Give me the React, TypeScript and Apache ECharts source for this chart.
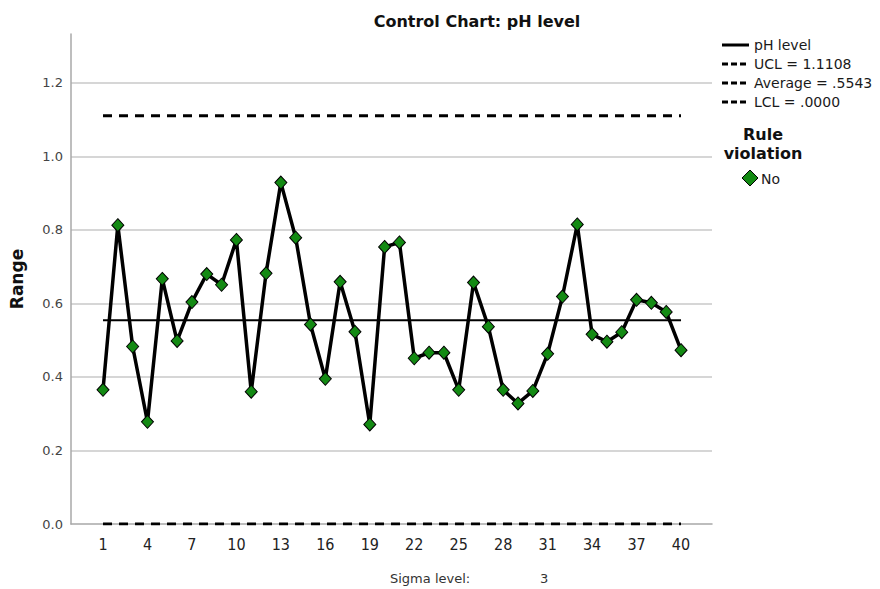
import React, { useEffect, useRef } from "react";
import * as echarts from "echarts";

const samples = [1, 2, 3, 4, 5, 6, 7, 8, 9, 10, 11, 12, 13, 14, 15, 16, 17, 18, 19, 20,
  21, 22, 23, 24, 25, 26, 27, 28, 29, 30, 31, 32, 33, 34, 35, 36, 37, 38, 39, 40];
const phRange = [0.365, 0.813, 0.483, 0.278, 0.667, 0.498, 0.604, 0.680, 0.651, 0.773,
  0.360, 0.682, 0.929, 0.779, 0.543, 0.395, 0.659, 0.523, 0.271, 0.754,
  0.766, 0.451, 0.466, 0.466, 0.365, 0.657, 0.537, 0.365, 0.328, 0.362,
  0.463, 0.619, 0.815, 0.516, 0.496, 0.522, 0.610, 0.602, 0.577, 0.473];
const xTickLabels = [1, 4, 7, 10, 13, 16, 19, 22, 25, 28, 31, 34, 37, 40];
const yTickValues = [0, 0.2, 0.4, 0.6, 0.8, 1.0, 1.2];
const UCL = 1.1108;
const AVG = 0.5543;
const LCL = 0;
const legendLabels = ["pH level", "UCL = 1.1108", "Average = .5543", "LCL = .0000"];
const ruleLabels = ["No"];

const FONT = "'DejaVu Sans', sans-serif";

export default function App() {
  const ref = useRef<HTMLDivElement>(null);
  useEffect(() => {
    if (!ref.current) return;
    const chart = echarts.init(ref.current, null, { renderer: "svg" });
    const first = samples[0];
    const last = samples[samples.length - 1];
    const dashed = [9, 7];
    const legendGraphics: any[] = [];
    legendLabels.forEach((lab, i) => {
      const y = 45 + i * 19;
      legendGraphics.push({
        type: "line",
        shape: { x1: 722, y1: y, x2: 749, y2: y },
        style: { stroke: "#000", lineWidth: 3, lineDash: i === 0 ? null : [6, 3] },
      });
      legendGraphics.push({
        type: "text",
        x: 754,
        y: y,
        style: { text: lab, font: `14px ${FONT}`, fill: "#1a1a1a", textVerticalAlign: "middle" },
      });
    });
    legendGraphics.push({
      type: "text",
      x: 763,
      y: 125,
      style: {
        text: "Rule\nviolation",
        font: `bold 16px ${FONT}`,
        fill: "#111",
        textAlign: "center",
        lineHeight: 19,
      },
    });
    legendGraphics.push({
      type: "polygon",
      shape: { points: [[750, 170], [758, 178], [750, 186], [742, 178]] },
      style: { fill: "#138a13", stroke: "#000", lineWidth: 1 },
    });
    legendGraphics.push({
      type: "text",
      x: 761,
      y: 179,
      style: { text: ruleLabels[0], font: `14px ${FONT}`, fill: "#1a1a1a", textVerticalAlign: "middle" },
    });
    legendGraphics.push({
      type: "text",
      x: 390,
      y: 578,
      style: { text: "Sigma level:", font: `13px ${FONT}`, fill: "#333", textVerticalAlign: "middle" },
    });
    legendGraphics.push({
      type: "text",
      x: 540,
      y: 578,
      style: { text: "3", font: `13px ${FONT}`, fill: "#333", textVerticalAlign: "middle" },
    });

    chart.setOption({
      animation: false,
      backgroundColor: "#fff",
      title: {
        text: "Control Chart: pH level",
        left: 472,
        top: 8,
        textAlign: "center",
        textStyle: { fontFamily: FONT, fontSize: 16, fontWeight: "bold", color: "#111" },
      },
      grid: { left: 71, top: 34, right: 168, bottom: 65, containLabel: false, outerBoundsMode: "none" },
      xAxis: {
        type: "value",
        min: -1.16,
        max: 42.09,
        axisLine: { show: true, onZero: false, lineStyle: { color: "#a8a8a8", width: 1.5 } },
        axisTick: { show: false },
        splitLine: { show: false },
        axisLabel: {
          customValues: xTickLabels,
          fontFamily: "'DejaVu Sans Condensed', 'DejaVu Sans', sans-serif",
          fontSize: 16,
          color: "#222",
          margin: 12,
        },
      },
      yAxis: {
        type: "value",
        min: 0,
        max: 1.3333,
        name: "Range",
        nameLocation: "middle",
        nameRotate: 90,
        nameGap: 46,
        nameTextStyle: { fontFamily: FONT, fontSize: 17, fontWeight: "bold", color: "#111" },
        axisLine: { show: true, onZero: false, lineStyle: { color: "#a8a8a8", width: 1.5 } },
        axisTick: { show: false },
        splitLine: { show: true, showMinLine: false, showMaxLine: false, lineStyle: { color: "#c8c8c8", width: 1.5 } },
        axisLabel: {
          customValues: yTickValues,
          formatter: (v: number) => v.toFixed(1),
          fontFamily: FONT,
          fontSize: 13,
          color: "#444",
          margin: 8,
        },
        interval: 0.2,
      },
      graphic: legendGraphics,
      series: [
        {
          name: "UCL",
          type: "line",
          data: [[first, UCL], [last, UCL]],
          symbol: "none",
          lineStyle: { color: "#000", width: 3, type: dashed },
          z: 2,
        },
        {
          name: "Average",
          type: "line",
          data: [[first, AVG], [last, AVG]],
          symbol: "none",
          lineStyle: { color: "#000", width: 2 },
          z: 2,
        },
        {
          name: "LCL",
          type: "line",
          data: [[first, LCL], [last, LCL]],
          symbol: "none",
          lineStyle: { color: "#000", width: 3, type: dashed },
          z: 2,
        },
        {
          name: "pH level",
          type: "line",
          data: samples.map((s, i) => [s, phRange[i]]),
          symbol: "diamond",
          symbolSize: [12, 13],
          lineStyle: { color: "#000", width: 3.5 },
          itemStyle: { color: "#138a13", borderColor: "#000", borderWidth: 1 },
          z: 3,
        },
      ],
    });
    return () => chart.dispose();
  }, []);
  return <div ref={ref} style={{ width: 880, height: 589, position: "absolute", left: 0, top: 0 }} />;
}
